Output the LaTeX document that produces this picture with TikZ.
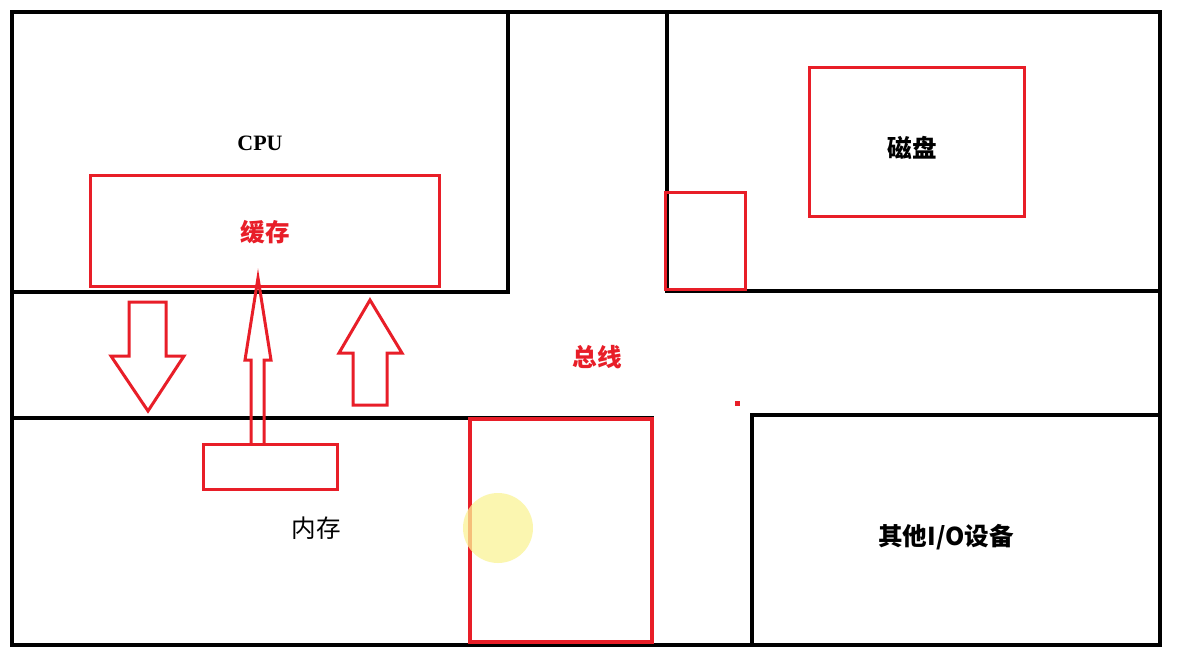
\documentclass[tikz,border=0pt]{standalone}
\usepackage{fontspec}
\setmainfont{Liberation Serif}
\newfontfamily\cjk{Noto Sans CJK SC}
\usetikzlibrary{calc}
\definecolor{penred}{RGB}{232,30,40}
\definecolor{marker}{RGB}{250,244,150}

\begin{document}
\begin{tikzpicture}[x=0.02cm, y=-0.02cm,
        every node/.style={inner sep=0pt, outer sep=0pt},
        box/.style={draw, line width=0.08cm, rectangle, anchor=north west},
        redbox/.style={draw=penred, line width=0.06cm, rectangle, anchor=north west},
        lbl/.style={font=\cjk\bfseries\fontsize{14}{16}\selectfont},
        hollow/.style={draw=penred, line width=0.06cm, line join=miter}]

        \fill[white] (0,0) rectangle (1180,664);
        \useasboundingbox (0,0) rectangle (1180,664);

        % black frame and areas
        \node[box, minimum width=22.96cm, minimum height=12.66cm] (frame) at (12,12) {};
        \node[box, minimum width=9.92cm, minimum height=5.6cm] (cpu) at (12,12) {};
        \node[box, minimum width=9.86cm, minimum height=5.58cm] (drive) at (667,12) {};
        \node[box, minimum width=12.8cm, minimum height=4.54cm] (mem) at (12,418) {};
        \node[box, minimum width=8.16cm, minimum height=4.6cm] (io) at (752,415) {};

        % red parts
        \node[redbox, minimum width=7cm, minimum height=2.24cm] (cache) at (90,175) {};
        \node[redbox, minimum width=1.62cm, minimum height=1.96cm] (port) at (665,192) {};
        \node[redbox, minimum width=4.32cm, minimum height=3cm] (disk) at (809,67) {};
        \node[redbox, minimum width=2.7cm, minimum height=0.9cm] (buf) at (203,444) {};
        \node[redbox, line width=0.08cm, minimum width=3.64cm, minimum height=4.46cm] (memport) at (470,419) {};
        \node[fill=penred, minimum size=0.1cm] (dot) at (737,403) {};

        % texts
        \node[font=\rmfamily\bfseries\fontsize{12.5}{14}\selectfont] (cpulbl) at (260,143) {CPU};
        \node[lbl, text=penred] (cachelbl) at (265,232) {缓存};
        \node[lbl] (disklbl) at (912,148) {磁盘};
        \node[lbl, text=penred] (buslbl) at (597,357) {总线};
        \node[lbl, font=\cjk\fontsize{14}{16}\selectfont] (memlbl) at (316,528) {内存};
        \node[lbl] (iolbl) at (946,537) {其他I/O设备};

        % block arrows
        \draw[hollow] (129,302) -- (166,302) -- (166,356) -- (184,356) -- (148,411)
          -- (111,356) -- (129,356) -- cycle;
        \draw[hollow] (353,405) -- (353,353) -- (339,353) -- (370,300) -- (402,353)
          -- (387,353) -- (387,405) -- cycle;

        \coordinate (tbase) at ($(buf.north west)+(55,0)$);
        \coordinate (ttip) at ($(tbase |- cache.south)+(0,-9)$);
        \draw[hollow] ($(tbase)+(-7,0)$) -- ($(tbase)+(-7,-84)$) -- ($(tbase)+(-13,-84)$)
          -- (ttip) -- ($(tbase)+(13,-84)$) -- ($(tbase)+(6,-84)$) -- ($(tbase)+(6,0)$);

        % pointer mark
        \node[circle, fill=marker, opacity=0.75, minimum size=1.4cm] (cursor) at (498,528) {};
      \end{tikzpicture}
\end{document}
